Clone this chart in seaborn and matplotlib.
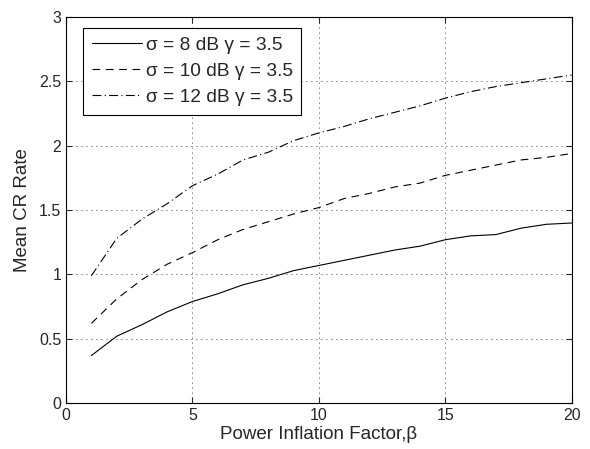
import matplotlib
matplotlib.use("Agg")
import matplotlib.pyplot as plt
import seaborn as sns
import pandas as pd
import numpy as np

beta = list(range(1, 21))
cr_s8 = [0.37, 0.52, 0.61, 0.71, 0.79, 0.85, 0.92, 0.97, 1.03, 1.07,
         1.11, 1.15, 1.19, 1.22, 1.27, 1.30, 1.31, 1.36, 1.39, 1.40]
cr_s10 = [0.62, 0.81, 0.96, 1.08, 1.17, 1.27, 1.35, 1.41, 1.47, 1.52,
          1.59, 1.63, 1.68, 1.71, 1.77, 1.81, 1.85, 1.89, 1.91, 1.94]
cr_s12 = [0.99, 1.28, 1.43, 1.55, 1.69, 1.78, 1.89, 1.95, 2.04, 2.10,
          2.15, 2.21, 2.26, 2.31, 2.37, 2.42, 2.46, 2.49, 2.52, 2.55]
labels = ["σ = 8 dB γ = 3.5", "σ = 10 dB γ = 3.5", "σ = 12 dB γ = 3.5"]

sns.set_style("ticks")
plt.rcParams['font.family'] = ['Liberation Sans', 'DejaVu Sans']

df = pd.DataFrame({
    "beta": beta * 3,
    "cr": cr_s8 + cr_s10 + cr_s12,
    "series": [labels[0]] * 20 + [labels[1]] * 20 + [labels[2]] * 20,
})

fig = plt.figure(figsize=(5.9, 4.49), dpi=100)
ax = fig.add_axes([0.112, 0.102, 0.857, 0.860])

styles = ["-", (0, (7, 5)), (0, (8, 3, 1, 3))]
for lab, ls in zip(labels, styles):
    sns.lineplot(data=df[df.series == lab], x="beta", y="cr", ax=ax,
                 color="black", linewidth=0.8, linestyle=ls, label=lab)

ax.set_xlim(0, 20)
ax.set_ylim(0, 3)
ax.set_xticks([0, 5, 10, 15, 20])
ax.set_yticks([0, 0.5, 1, 1.5, 2, 2.5, 3])
ax.set_yticklabels(["0", "0.5", "1", "1.5", "2", "2.5", "3"])
ax.grid(True, linestyle=(0, (1, 5)), color="black", linewidth=0.6)
ax.tick_params(direction="in", top=True, right=True, labelsize=11.5, length=4)
for s in ax.spines.values():
    s.set_linewidth(0.8)
    s.set_color("black")
ax.set_xlabel("Power Inflation Factor,β", fontsize=13.5, labelpad=2)
ax.set_ylabel("Mean CR Rate", fontsize=13.5, labelpad=6)

leg = ax.legend(loc="upper left", bbox_to_anchor=(0.034, 0.972),
                fontsize=13.8, frameon=True, fancybox=False,
                edgecolor="black", framealpha=1, handlelength=2.6,
                borderaxespad=0.0, handletextpad=0.2, labelspacing=0.45,
                borderpad=0.45)
leg.get_frame().set_linewidth(0.8)

fig.savefig("out.png", dpi=100)
